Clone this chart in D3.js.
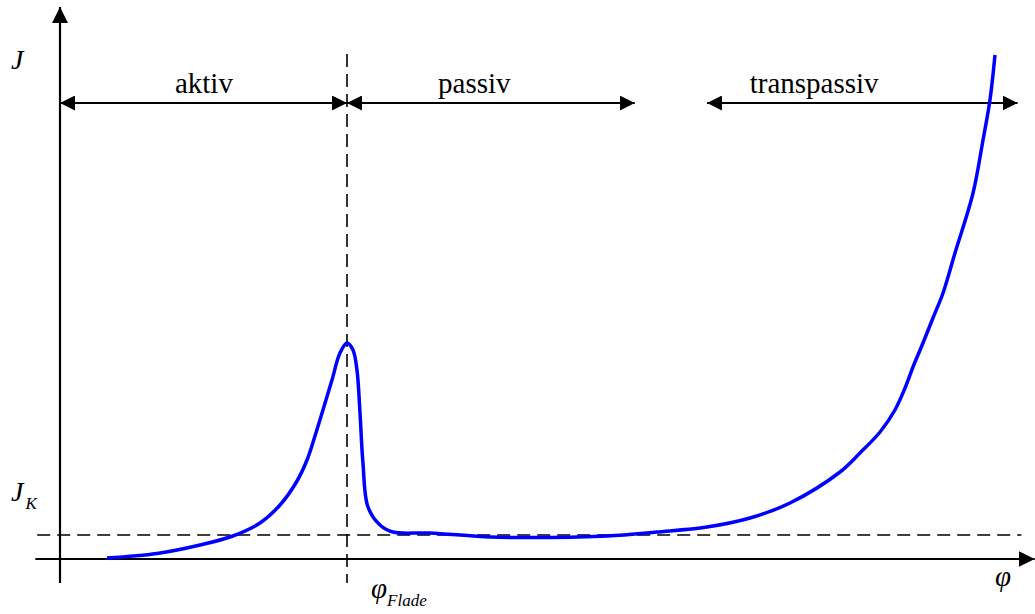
<!DOCTYPE html>
<html>
<head>
<meta charset="utf-8">
<script src="https://cdn.jsdelivr.net/npm/d3@7"></script>
<style>
  html, body { margin: 0; padding: 0; background: #fff; }
  svg { display: block; }
</style>
</head>
<body>
<svg id="chart" width="1035" height="614"></svg>
<script>
// Polarisation curve: current density J over electrode potential φ (arbitrary units)
const phi = [4.95, 10.21, 14.74, 18.2, 21.05, 23.16, 24.95, 26.0, 26.84, 27.68, 28.63, 29.47, 30.21,
             30.84, 31.26, 31.58, 31.89, 32.42, 33.68, 35.05,
             38.9, 45.3, 50.5, 57.6, 62.8, 68.1, 72.63, 76.84,
             82.11, 84.21, 86.32, 87.89, 88.95, 89.79, 90.84, 91.89, 92.95, 94.21, 96.11, 97.16, 97.89, 98.42];
const current = [0.2, 1.1, 2.8, 4.6, 7.2, 10.8, 15.6, 19.8, 24.6, 29.8, 35.8, 41.2, 43.2,
                 41.8, 37.8, 29.2, 19.2, 10.4, 6.8, 5.4,
                 5.2, 4.4, 4.3, 4.6, 5.4, 6.4, 8.2, 11.2,
                 17.4, 21.2, 25.4, 29.8, 34.2, 38.4, 43.2, 48.2, 53.2, 61.2, 73.2, 83.8, 91.8, 100.8];

// Characteristic values
const phiFlade = 30.21;  // Flade potential (peak of the active region)
const jK = 4.8;          // critical passive current density

// Potential regions
const regionNames = ["aktiv", "passiv", "transpassiv"];
const regionStart = [0, 30.21, 68.1];
const regionEnd = [30.21, 60.5, 100.8];

const serif = "'Liberation Serif', 'Times New Roman', Times, 'DejaVu Serif', serif";

const svg = d3.select("#chart");

const x = d3.scaleLinear().domain([0, 100]).range([60, 1010]);
const y = d3.scaleLinear().domain([0, 100]).range([559, 59]);

// Arrowhead markers
const defs = svg.append("defs");
function arrowMarker(id, len, half) {
  defs.append("marker")
    .attr("id", id)
    .attr("markerUnits", "userSpaceOnUse")
    .attr("viewBox", `0 ${-half} ${len} ${2 * half}`)
    .attr("refX", len)
    .attr("refY", 0)
    .attr("markerWidth", len)
    .attr("markerHeight", 2 * half)
    .attr("orient", "auto-start-reverse")
    .append("path")
    .attr("d", `M0,${-half}L${len},0L0,${half}Z`)
    .attr("fill", "#000");
}
arrowMarker("axisHead", 16, 8);
arrowMarker("rangeHead", 15, 7.5);

// Axes
const axisLayer = svg.append("g");
axisLayer.append("line")
  .attr("x1", x(0)).attr("y1", y(-4.8))
  .attr("x2", x(0)).attr("y2", y(110.4))
  .attr("stroke", "#000").attr("stroke-width", 2.2)
  .attr("marker-end", "url(#axisHead)");
axisLayer.append("line")
  .attr("x1", x(-2.6)).attr("y1", y(0))
  .attr("x2", x(102.6)).attr("y2", y(0))
  .attr("stroke", "#000").attr("stroke-width", 2.2)
  .attr("marker-end", "url(#axisHead)");

// Reference lines: Flade potential and J_K
const refLayer = svg.append("g")
  .attr("stroke", "#000").attr("stroke-width", 1.6)
  .attr("stroke-dasharray", "13,7").attr("fill", "none");
refLayer.append("line")
  .attr("x1", x(phiFlade)).attr("y1", y(101))
  .attr("x2", x(phiFlade)).attr("y2", y(-4.8));
refLayer.append("line")
  .attr("x1", x(-2.4)).attr("y1", y(jK))
  .attr("x2", x(101.2)).attr("y2", y(jK));

// Region arrows
const rowJ = 91.2;
const regionLabelPhi = [12.1, 39.8, 72.6];
const regions = svg.append("g");
regionNames.forEach((name, i) => {
  regions.append("line")
    .attr("x1", x(regionStart[i])).attr("y1", y(rowJ))
    .attr("x2", x(regionEnd[i])).attr("y2", y(rowJ))
    .attr("stroke", "#000").attr("stroke-width", 2)
    .attr("marker-start", "url(#rangeHead)")
    .attr("marker-end", "url(#rangeHead)");
  regions.append("text")
    .attr("x", x(regionLabelPhi[i]))
    .attr("y", y(rowJ) - 10)
    .attr("font-family", serif)
    .attr("font-size", 29)
    .text(name);
});

// Curve
const line = d3.line()
  .x((d, i) => x(phi[i]))
  .y((d, i) => y(current[i]))
  .curve(d3.curveCatmullRom.alpha(0.5));
svg.append("path")
  .datum(phi)
  .attr("d", line)
  .attr("fill", "none")
  .attr("stroke", "#0000ff")
  .attr("stroke-width", 3.5)
  .attr("stroke-linejoin", "round");

// Axis labels
const labels = svg.append("g")
  .attr("font-family", serif)
  .attr("font-style", "italic");
labels.append("text")
  .attr("x", 11).attr("y", 69)
  .attr("font-size", 28)
  .text("J");
const jkText = labels.append("text")
  .attr("x", 11).attr("y", 501)
  .attr("font-size", 28);
jkText.append("tspan").text("J");
jkText.append("tspan").attr("font-size", 17).attr("dy", 8).attr("dx", 2).text("K");

const flText = labels.append("text")
  .attr("x", 371).attr("y", 598)
  .attr("font-size", 29);
flText.append("tspan").text("φ");
flText.append("tspan").attr("font-size", 17).attr("dy", 8).text("Flade");

labels.append("text")
  .attr("x", 995).attr("y", 586)
  .attr("font-size", 29)
  .text("φ");
</script>
</body>
</html>
